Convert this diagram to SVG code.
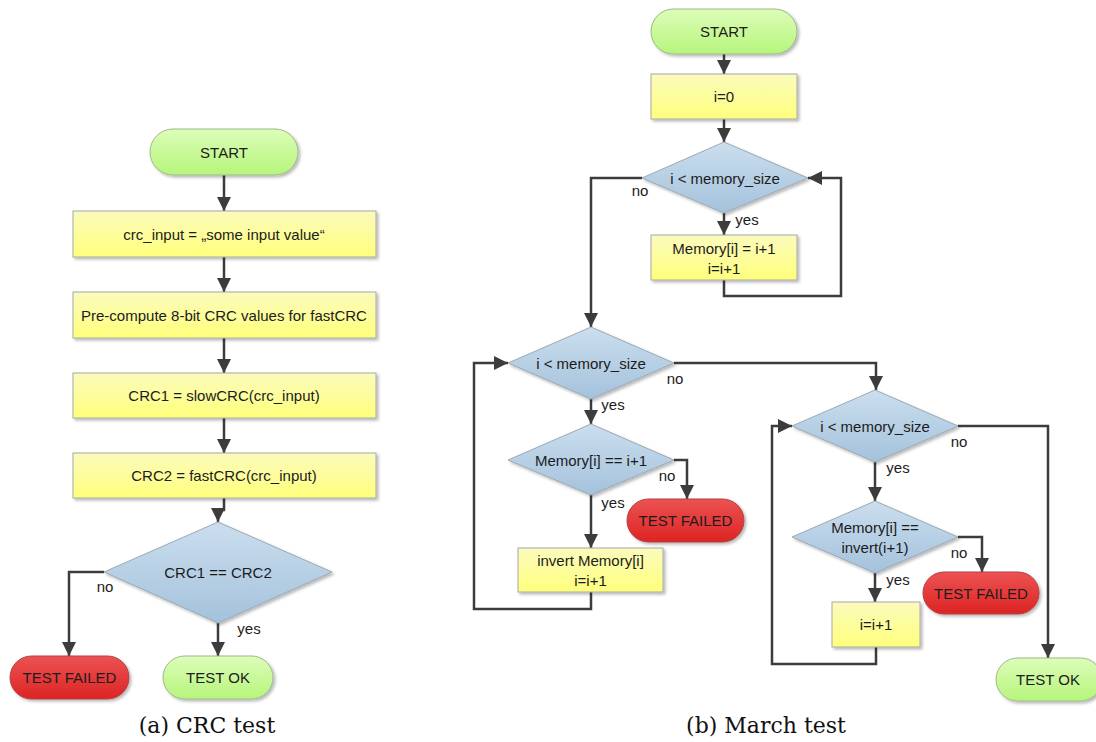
<svg xmlns="http://www.w3.org/2000/svg" width="1096" height="742" viewBox="0 0 1096 742">
  <defs>
    <linearGradient id="gYellow" x1="0" y1="0" x2="0" y2="1">
      <stop offset="0" stop-color="#fbfbbd"/>
      <stop offset="1" stop-color="#ffff7c"/>
    </linearGradient>
    <linearGradient id="gBlue" x1="0" y1="0" x2="0" y2="1">
      <stop offset="0" stop-color="#cbdeee"/>
      <stop offset="1" stop-color="#a4c2dc"/>
    </linearGradient>
    <linearGradient id="gGreen" x1="0" y1="0" x2="0" y2="1">
      <stop offset="0" stop-color="#ddfdb9"/>
      <stop offset="1" stop-color="#b6f57b"/>
    </linearGradient>
    <linearGradient id="gRed" x1="0" y1="0" x2="0" y2="1">
      <stop offset="0" stop-color="#ec5252"/>
      <stop offset="1" stop-color="#dd2424"/>
    </linearGradient>
    <filter id="shadow" x="-10%" y="-10%" width="125%" height="135%">
      <feDropShadow dx="2" dy="2" stdDeviation="1.5" flood-color="#000" flood-opacity="0.28"/>
    </filter>
    <marker id="arrow" viewBox="0 0 14 14" refX="14" refY="7" markerWidth="14" markerHeight="14" markerUnits="userSpaceOnUse" orient="auto">
      <path d="M0,0 L14,7 L0,14 z" fill="#3c3c3c"/>
    </marker>
    <style>
      .proc { fill: url(#gYellow); stroke: #a8a8a8; stroke-width: 1; filter: url(#shadow); }
      .dec { fill: url(#gBlue); stroke: #9aa8b4; stroke-width: 1; filter: url(#shadow); }
      .ok { fill: url(#gGreen); stroke: #9cb88a; stroke-width: 1; filter: url(#shadow); }
      .fail { fill: url(#gRed); stroke: #b04040; stroke-width: 1; filter: url(#shadow); }
      text { font-family: "Liberation Sans", Arial, sans-serif; font-size: 15px; fill: #1c1c1c; }
      .c { text-anchor: middle; dominant-baseline: central; }
      .lbl { text-anchor: middle; }
      .cap { font-family: "DejaVu Serif", "Liberation Serif", serif; font-size: 22px; text-anchor: middle; fill: #111; }
      .conn path { fill: none; stroke: #3c3c3c; stroke-width: 2.5; marker-end: url(#arrow); }
    </style>
  </defs>

  <rect width="1096" height="742" fill="#ffffff"/>

  <!-- (a) CRC test: connectors -->
  <g id="connectors-crc" class="conn">
    <path d="M224,175 V211"/>
    <path d="M224,257 V292"/>
    <path d="M224,338 V373"/>
    <path d="M224,418 V453"/>
    <path d="M224,498 V510 H218 V522"/>
    <path d="M104,572 H69 V656"/>
    <path d="M218,623 V656"/>
  </g>

  <!-- (b) March test: connectors -->
  <g id="connectors-march" class="conn">
    <path d="M724,54 V74"/>
    <path d="M724,119 V142"/>
    <path d="M724,213 V235"/>
    <path d="M724,280 V296 H841 V178 H808"/>
    <path d="M642,178 H591 V327"/>
    <path d="M674,363 H876 V390"/>
    <path d="M591,399 V424"/>
    <path d="M674,460 H687 V499"/>
    <path d="M591,495 V548"/>
    <path d="M591,592 V609 H474 V363 H508"/>
    <path d="M875,462 V501"/>
    <path d="M958,426 H1048 V658"/>
    <path d="M958,537 H982 V572"/>
    <path d="M875,573 V602"/>
    <path d="M876,647 V664 H772 V426 H792"/>
  </g>

  <!-- connector labels -->
  <g id="labels">
    <text class="lbl" x="105" y="592">no</text>
    <text class="lbl" x="249" y="634">yes</text>
    <text class="lbl" x="640" y="196">no</text>
    <text class="lbl" x="747" y="225">yes</text>
    <text class="lbl" x="675" y="384">no</text>
    <text class="lbl" x="613" y="410">yes</text>
    <text class="lbl" x="667" y="481">no</text>
    <text class="lbl" x="613" y="508">yes</text>
    <text class="lbl" x="959" y="447">no</text>
    <text class="lbl" x="898" y="473">yes</text>
    <text class="lbl" x="959" y="558">no</text>
    <text class="lbl" x="898" y="585">yes</text>
  </g>

  <!-- (a) CRC test nodes -->
  <g id="a-start">
    <rect class="ok" x="150" y="129" width="148" height="46" rx="23"/>
    <text class="c" x="224" y="152">START</text>
  </g>
  <g id="a-input">
    <rect class="proc" x="73" y="211" width="303" height="46"/>
    <text class="c" x="224" y="234">crc_input = „some input value“</text>
  </g>
  <g id="a-precompute">
    <rect class="proc" x="73" y="292" width="303" height="46"/>
    <text class="c" x="224" y="315">Pre-compute 8-bit CRC values for fastCRC</text>
  </g>
  <g id="a-crc1">
    <rect class="proc" x="73" y="373" width="303" height="45"/>
    <text class="c" x="224" y="395.5">CRC1 = slowCRC(crc_input)</text>
  </g>
  <g id="a-crc2">
    <rect class="proc" x="73" y="453" width="303" height="45"/>
    <text class="c" x="224" y="475.5">CRC2 = fastCRC(crc_input)</text>
  </g>
  <g id="a-compare">
    <polygon class="dec" points="218,522 332,572 218,623 104,572"/>
    <text class="c" x="218" y="572">CRC1 == CRC2</text>
  </g>
  <g id="a-fail">
    <rect class="fail" x="10" y="656" width="119" height="43" rx="21.5"/>
    <text class="c" x="69.5" y="677.5">TEST FAILED</text>
  </g>
  <g id="a-ok">
    <rect class="ok" x="163" y="656" width="110" height="43" rx="21.5"/>
    <text class="c" x="218" y="677.5">TEST OK</text>
  </g>

  <!-- (b) March test nodes -->
  <g id="b-start">
    <rect class="ok" x="651" y="9" width="146" height="45" rx="22.5"/>
    <text class="c" x="724" y="31.5">START</text>
  </g>
  <g id="b-init">
    <rect class="proc" x="651" y="74" width="146" height="45"/>
    <text class="c" x="724" y="96.5">i=0</text>
  </g>
  <g id="b-loop1">
    <polygon class="dec" points="724,142 808,178 724,213 642,178"/>
    <text class="c" x="725" y="178">i &lt; memory_size</text>
  </g>
  <g id="b-write">
    <rect class="proc" x="651" y="235" width="146" height="45"/>
    <text class="c" x="724" y="248">Memory[i] = i+1</text>
    <text class="c" x="724" y="268">i=i+1</text>
  </g>
  <g id="b-loop2">
    <polygon class="dec" points="591,327 674,363 591,399 508,363"/>
    <text class="c" x="591" y="363">i &lt; memory_size</text>
  </g>
  <g id="b-check1">
    <polygon class="dec" points="591,424 674,460 591,495 508,460"/>
    <text class="c" x="591" y="460">Memory[i] == i+1</text>
  </g>
  <g id="b-fail1">
    <rect class="fail" x="627" y="499" width="117" height="43" rx="21.5"/>
    <text class="c" x="685.5" y="520.5">TEST FAILED</text>
  </g>
  <g id="b-invert">
    <rect class="proc" x="518" y="548" width="145" height="44"/>
    <text class="c" x="590.5" y="560">invert Memory[i]</text>
    <text class="c" x="590.5" y="580">i=i+1</text>
  </g>
  <g id="b-loop3">
    <polygon class="dec" points="875,390 958,426 875,462 792,426"/>
    <text class="c" x="875" y="426">i &lt; memory_size</text>
  </g>
  <g id="b-check2">
    <polygon class="dec" points="875,501 958,537 875,573 792,537"/>
    <text class="c" x="875" y="527">Memory[i] ==</text>
    <text class="c" x="875" y="547">invert(i+1)</text>
  </g>
  <g id="b-fail2">
    <rect class="fail" x="923" y="572" width="116" height="42" rx="21"/>
    <text class="c" x="981" y="593">TEST FAILED</text>
  </g>
  <g id="b-inc">
    <rect class="proc" x="832" y="602" width="88" height="45"/>
    <text class="c" x="876" y="624.5">i=i+1</text>
  </g>
  <g id="b-ok">
    <rect class="ok" x="996" y="658" width="106" height="43" rx="21.5"/>
    <text class="c" x="1048" y="679.5">TEST OK</text>
  </g>

  <!-- captions -->
  <text class="cap" x="207" y="733">(a) CRC test</text>
  <text class="cap" x="766" y="733">(b) March test</text>
</svg>
